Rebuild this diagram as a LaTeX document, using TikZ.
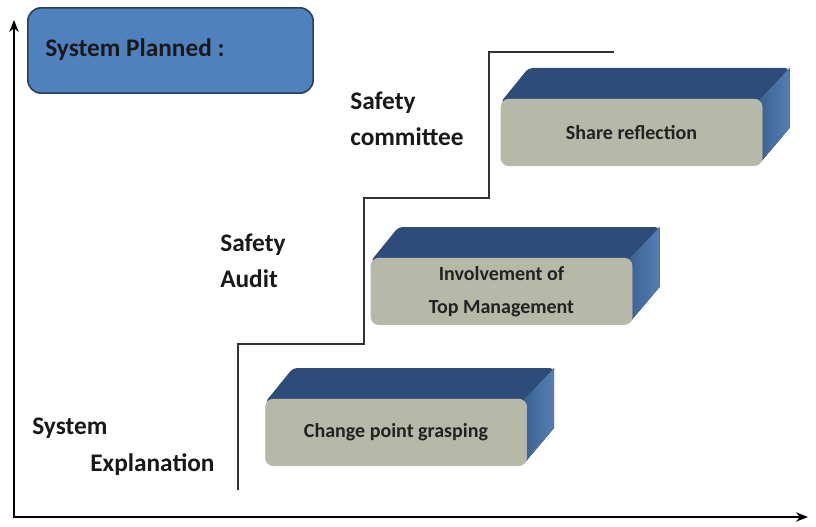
\documentclass[tikz,border=0pt]{standalone}
\usepackage{fontspec}
\setmainfont{Carlito}
\usetikzlibrary{arrows.meta}

\definecolor{planblue}{HTML}{4F81BD}
\definecolor{planedge}{HTML}{2B3F5C}
\definecolor{topblue}{HTML}{2E4C7A}
\definecolor{sideblue}{HTML}{4673AC}
\definecolor{facegray}{HTML}{B6B8A8}
\definecolor{textgray}{HTML}{222222}

\tikzset{
	axis/.style={line width=1.3pt,-{Stealth[length=9pt,width=7pt]}},
	stair/.style={line width=1.2pt,draw=black!80},
	front/.style={fill=facegray,draw=facegray!85!white,rounded corners=6pt,
		minimum width=196pt,minimum height=50pt,align=center,
		font=\bfseries\fontsize{15}{25}\selectfont,text=textgray},
	topface/.style={fill=topblue,rounded corners=3pt},
	sideface/.style={left color=sideblue!85!black,right color=sideblue!92!white},
	label/.style={anchor=west,align=left,inner sep=0pt,
		font=\bfseries\fontsize{19}{27}\selectfont,text=black!90}
}

\begin{document}
\begin{tikzpicture}[x=0.75pt,y=-0.75pt]
			\useasboundingbox (0,0) rectangle (816,527);
			% axes
			\coordinate (origin) at (14,517);
			\coordinate (ytip) at (14,20);
			\coordinate (xtip) at (808,517);
			\draw[axis] ([xshift=-1pt]origin) -- (xtip);
			\draw[axis] ([yshift=-1pt]origin) -- (ytip);
			% planned box
			\node[fill=planblue,draw=planedge,line width=1.2pt,rounded corners=10pt,
				minimum width=214pt,minimum height=64pt] (plan) at (170.5,50.5) {};
			\node[label,font=\bfseries\fontsize{19}{23}\selectfont] (plantext) at (45,50) {System Planned :};
			% stairs
			\coordinate (s0) at (238,490);
			\coordinate (s1) at (238,344);
			\coordinate (s2) at (364,344);
			\coordinate (s3) at (364,198);
			\coordinate (s4) at (489,198);
			\coordinate (s5) at (489,52);
			\coordinate (s6) at (614,52);
			\draw[stair] (s0) -- (s1) -- (s2) -- (s3) -- (s4) -- (s5) -- (s6);
			% labels
			\node[label] (committee) at (350,119) {Safety\\committee};
			\node[label] (audit) at (220,261) {Safety\\Audit};
			\node[label] (explA) at (32,428) {System};
			\node[label] (explB) at (90,465) {Explanation};
			% blocks
			\foreach \name/\pos/\txt in {change/{396,432.5}/Change point grasping,
				involve/{501.5,291.5}/Involvement of\\Top Management,
				share/{631.5,132.5}/Share reflection}
			{
				\coordinate (\name) at (\pos);
				\fill[topface] ([shift={(-131,-30)}]\name) -- ++(28,-34.5) -- ++(261,0)
					-- ([shift={(131,-30)}]\name) -- cycle;
				\fill[sideface] ([shift={(128,-33.5)}]\name) -- ++(30,-31) -- ++(0,60)
					-- ([shift={(128,31)}]\name) -- cycle;
				\node[front] (\name box) at (\name) {\txt};
			}
		\end{tikzpicture}
\end{document}
